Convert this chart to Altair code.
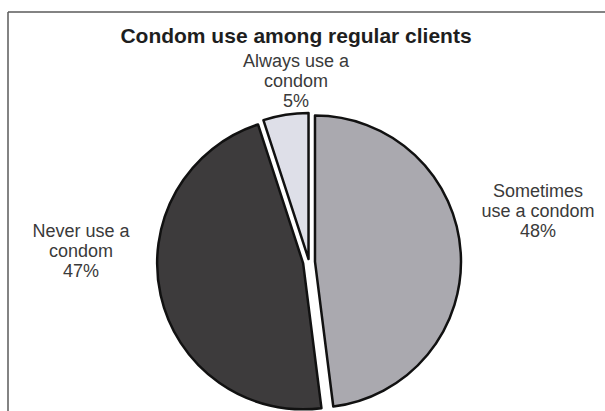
import math
import altair as alt
import pandas as pd

# ---- data -------------------------------------------------------------
title_text = "Condom use among regular clients"
categories = ["Sometimes use a condom", "Never use a condom", "Always use a condom"]
percent = [48, 47, 5]
label_lines = [["Sometimes", "use a condom"], ["Never use a", "condom"], ["Always use a", "condom"]]
fill_colors = ["#aaa9af", "#3d3b3c", "#dedfe8"]

df = pd.DataFrame({
    "category": categories,
    "value": percent,
    "order": list(range(len(categories))),
    "label": ["\n".join(lines + [f"{v}%"]) for lines, v in zip(label_lines, percent)],
})

# ---- layout / style ----------------------------------------------------
W, H = 605, 411
CX, CY, R = 309, 262, 146
explode = [6, 6, 3]
label_pos = [(538, 197), (81, 237), (296, 67)]
FONT = "Liberation Sans"

theta_scale = alt.Scale(domain=[0, 100], range=[0, 2 * math.pi])

base = alt.Chart(df).transform_window(
    cum="sum(value)", sort=[alt.SortField("order")], frame=[None, 0]
).transform_calculate(start="datum.cum - datum.value")

layers = []

# frame of the scanned figure
frame_data = alt.Data(values=[{}])
layers.append(
    alt.Chart(frame_data).mark_rule(color="#5a5a5a", strokeWidth=1.5).encode(
        x=alt.value(8), x2=alt.value(W), y=alt.value(12)
    )
)
layers.append(
    alt.Chart(frame_data).mark_rule(color="#5a5a5a", strokeWidth=1.5).encode(
        x=alt.value(8), y=alt.value(12), y2=alt.value(H)
    )
)

# exploded slices
cum = 0
for i, cat in enumerate(categories):
    mid = (cum + percent[i] / 2) / 100 * 2 * math.pi
    cum += percent[i]
    dx = explode[i] * math.sin(mid)
    dy = -explode[i] * math.cos(mid)
    layers.append(
        base.transform_filter(alt.datum.category == cat)
        .mark_arc(radius=R, fill=fill_colors[i], stroke="#111111", strokeWidth=2.5,
                  strokeJoin="round")
        .encode(
            theta=alt.Theta("start:Q", scale=theta_scale, stack=False),
            theta2="cum:Q",
            x=alt.value(CX + dx),
            y=alt.value(CY + dy),
        )
    )

# slice labels
for i, cat in enumerate(categories):
    lx, ly = label_pos[i]
    layers.append(
        base.transform_filter(alt.datum.category == cat)
        .mark_text(align="center", baseline="alphabetic", lineBreak="\n", lineHeight=20,
                   fontSize=18, font=FONT, color="#3a3a3a")
        .encode(text="label:N", x=alt.value(lx), y=alt.value(ly))
    )

# title
layers.append(
    alt.Chart(frame_data).mark_text(align="center", baseline="alphabetic", fontSize=21,
                                    fontWeight="bold", font=FONT, color="#1e1e1e")
    .encode(text=alt.value(title_text), x=alt.value(296), y=alt.value(43))
)

chart = alt.layer(*layers).properties(
    width=W, height=H, padding=0, autosize=alt.AutoSizeParams(type="none"),
    background="white",
).configure_view(strokeWidth=0)

chart.save("out.html", embed_options={"renderer": "svg", "actions": False})
